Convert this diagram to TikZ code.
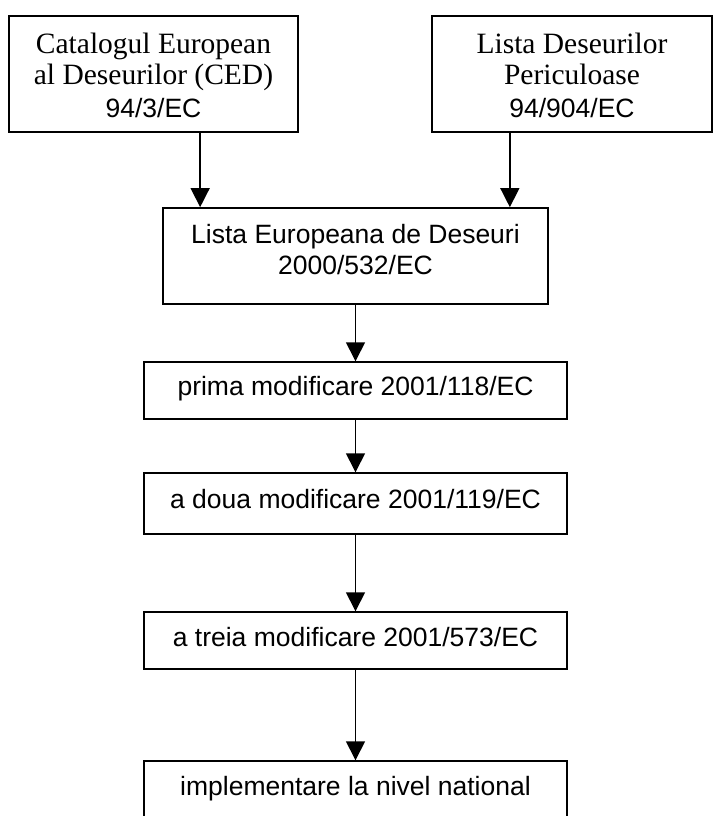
\documentclass[tikz,border=0pt]{standalone}
\usepackage{fontspec}
\setmainfont{Liberation Serif}
\setsansfont{Liberation Sans}
\usetikzlibrary{arrows.meta}

% fixed-size text block: width, height, first-baseline offset, content
\newcommand{\boxtext}[4]{\parbox[c][#2][t]{#1}{\centering\rule{0pt}{#3}#4}}
\newcommand{\serifsize}{\rmfamily\fontsize{29.5}{32}\selectfont}
\newcommand{\sanssize}{\sffamily\fontsize{26.5}{32}\selectfont}

\tikzset{
  boxbase/.style={draw, inner sep=0pt, anchor=center},
  topbox/.style={boxbase, line width=2.2pt},
  midbox/.style={boxbase, line width=1.7pt},
  stepbox/.style={boxbase, line width=1.4pt},
  arr/.style={-{Triangle[length=19pt,width=19pt]}, line width=1.4pt},
}

\begin{document}
\begin{tikzpicture}[x=1pt, y=-1pt]
  \useasboundingbox (0,0) rectangle (714,816);

  % source directives
  \node[topbox] (ced) at (153.5,74)
    {\boxtext{289pt}{116pt}{37pt}{\serifsize Catalogul European\\al Deseurilor (CED)\\\sanssize 94/3/EC}};
  \node[topbox] (ldp) at (572,74)
    {\boxtext{280pt}{116pt}{37pt}{\serifsize Lista Deseurilor\\Periculoase\\\sanssize 94/904/EC}};

  % consolidated list
  \node[midbox] (led) at (355.5,256)
    {\boxtext{385pt}{96pt}{35pt}{\sffamily\fontsize{26.5}{31}\selectfont Lista Europeana de Deseuri\\2000/532/EC}};

  % amendments and national transposition
  \node[stepbox] (mod1) at (355.5,390.5)
    {\boxtext{423pt}{57pt}{33pt}{\sanssize prima modificare 2001/118/EC}};
  \node[stepbox] (mod2) at (355.5,503.5)
    {\boxtext{423pt}{61pt}{35pt}{\sanssize a doua modificare 2001/119/EC}};
  \node[stepbox] (mod3) at (355.5,640.5)
    {\boxtext{423pt}{57pt}{34pt}{\sanssize a treia modificare 2001/573/EC}};
  \node[stepbox] (impl) at (355.5,790)
    {\boxtext{423pt}{58pt}{34pt}{\sanssize implementare la nivel national}};

  % entry points on the top edge of the consolidated list
  \path (led.north west) ++(38,0) coordinate (inL);
  \path (led.north east) ++(-39,0) coordinate (inR);

  \draw[arr] (ced.south -| inL) -- (inL);
  \draw[arr] (ldp.south -| inR) -- (inR);
  \draw[arr] (led.south) -- (mod1.north);
  \draw[arr] (mod1.south) -- (mod2.north);
  \draw[arr] (mod2.south) -- (mod3.north);
  \draw[arr] (mod3.south) -- (impl.north);
\end{tikzpicture}
\end{document}
